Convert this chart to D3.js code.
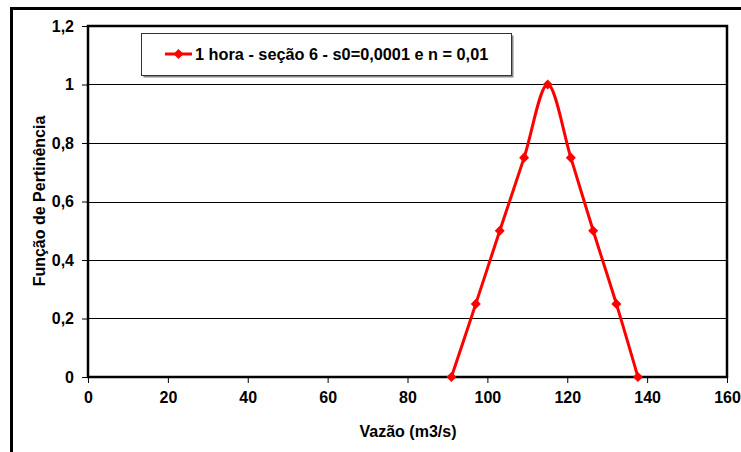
<!DOCTYPE html>
<html><head><meta charset="utf-8">
<script src="https://cdn.jsdelivr.net/npm/d3@7"></script>
<style>body{margin:0;background:#fff}svg{display:block}text{font-family:"Liberation Sans",Arial,sans-serif;font-weight:bold}</style>
</head><body><svg id="c" width="741" height="452"></svg>
<script>
const vazao = [91, 97.1, 103.1, 109.2, 115.1, 120.9, 126.5, 132.3, 137.7];
const pertinencia = [0, 0.25, 0.5, 0.75, 1, 0.75, 0.5, 0.25, 0];
const seriesName = "1 hora - seção 6 - s0=0,0001 e n = 0,01";
const xTicks = [0, 20, 40, 60, 80, 100, 120, 140, 160];
const yTicks = [0, 0.2, 0.4, 0.6, 0.8, 1, 1.2];
const xTitle = "Vazão (m3/s)";
const yTitle = "Função de Pertinência";

const svg = d3.select("#c");
const L = 88, R = 727, T = 26, B = 377;
const x = d3.scaleLinear().domain([0, 160]).range([L, R]);
const y = d3.scaleLinear().domain([0, 1.2]).range([B, T]);
const fmt = d => d3.format(".1~f")(d).replace(".", ",");

// outer frame
svg.append("path").attr("d", `M11.5,460 V8.5 H760`).attr("fill", "none").attr("stroke", "#000").attr("stroke-width", 3);

// gridlines
svg.append("g").selectAll("line").data(yTicks.filter(d => d > 0 && d < 1.2)).join("line")
  .attr("x1", L).attr("x2", R).attr("y1", d => Math.round(y(d)) + 0.5).attr("y2", d => Math.round(y(d)) + 0.5)
  .attr("stroke", "#000").attr("stroke-width", 1);

// axes
const yAxis = svg.append("g").attr("transform", `translate(${L},0)`)
  .call(d3.axisLeft(y).tickValues(yTicks).tickSize(6).tickPadding(8).tickFormat(fmt));
const xAxis = svg.append("g").attr("transform", `translate(0,${B})`)
  .call(d3.axisBottom(x).tickValues(xTicks).tickSize(6).tickPadding(9).tickFormat(d3.format("d")));
[yAxis, xAxis].forEach(a => {
  a.select(".domain").remove();
  a.selectAll("text").attr("font-size", 16).attr("font-weight", "bold").attr("fill", "#000")
    .attr("font-family", '"Liberation Sans",Arial,sans-serif');
  a.selectAll("line").attr("stroke", "#000");
});

// plot frame
svg.append("rect").attr("x", L).attr("y", T).attr("width", R - L).attr("height", B - T)
  .attr("fill", "none").attr("stroke", "#000").attr("stroke-width", 2.5);

// series
const pts = vazao.map((v, i) => [v, pertinencia[i]]);
svg.append("path").datum(pts)
  .attr("d", d3.line().x(d => x(d[0])).y(d => y(d[1])).curve(d3.curveCatmullRom.alpha(0.5)))
  .attr("fill", "none").attr("stroke", "#ff0000").attr("stroke-width", 3);
const diamond = d3.symbol().type(d3.symbolDiamond2).size(64);
svg.append("g").selectAll("path").data(pts).join("path")
  .attr("transform", d => `translate(${x(d[0])},${y(d[1])})`)
  .attr("d", diamond).attr("fill", "#ff0000");

// legend
const lg = svg.append("g");
lg.append("rect").attr("x", 143.5).attr("y", 35.5).attr("width", 370).attr("height", 42).attr("fill", "#888");
lg.append("rect").attr("x", 141.5).attr("y", 33.5).attr("width", 370).attr("height", 42).attr("fill", "#fff").attr("stroke", "#333").attr("stroke-width", 1);
lg.append("line").attr("x1", 165).attr("x2", 192).attr("y1", 54).attr("y2", 54).attr("stroke", "#ff0000").attr("stroke-width", 3);
lg.append("path").attr("transform", "translate(178.5,54)").attr("d", diamond).attr("fill", "#ff0000");
lg.append("text").attr("x", 195).attr("y", 60).attr("font-size", 16.3).attr("fill", "#000").text(seriesName);

// titles
svg.append("text").attr("x", 408).attr("y", 437).attr("text-anchor", "middle").attr("font-size", 16).text(xTitle);
svg.append("text").attr("transform", "translate(45,201) rotate(-90)").attr("text-anchor", "middle").attr("font-size", 16).text(yTitle);
</script></body></html>
